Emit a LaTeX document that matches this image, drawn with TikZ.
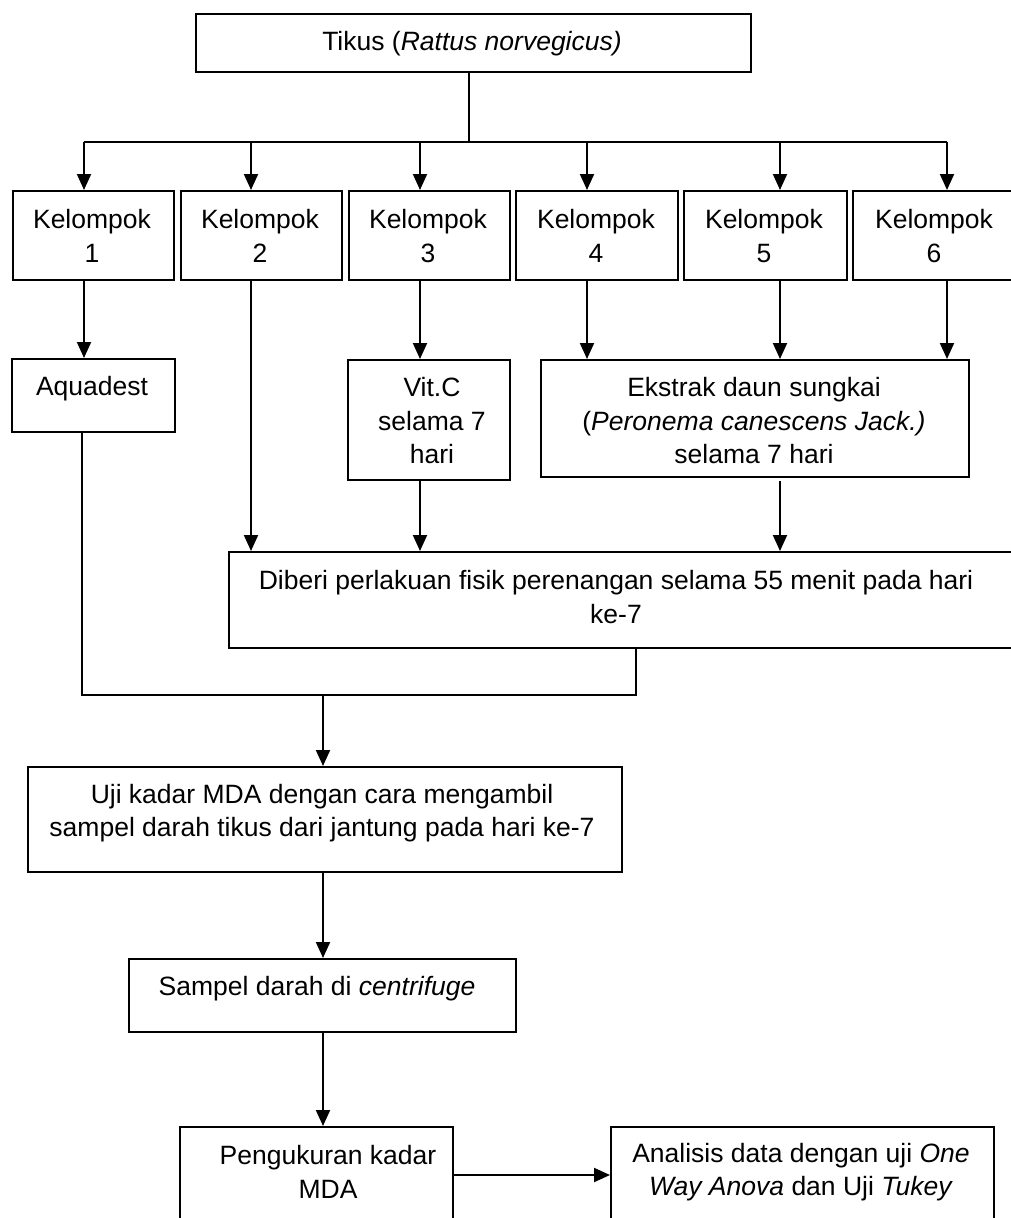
\documentclass[tikz,border=0pt]{standalone}
\usepackage{fontspec}
\setmainfont{Liberation Sans}
\usetikzlibrary{arrows.meta}
\begin{document}
\begin{tikzpicture}[x=1pt,y=-1pt,
  box/.style={draw,line width=1.9pt,inner sep=0pt,anchor=north west},
  txt/.style={align=center,inner sep=0pt,font=\fontsize{26.5}{33.5}\selectfont},
  ln/.style={line width=2pt},
  arr/.style={line width=2pt,-{Triangle[length=16pt,width=14pt]}}]
\clip (0,0) rectangle (1011,1218);
\fill[white] (0,0) rectangle (1011,1218);
% top
\node[box,minimum width=555pt,minimum height=58pt] (T) at (195,13) {};
\node[txt] (Tt) at (472,44) {Tikus (\textit{Rattus norvegicus)}};
% kelompok boxes
\node[box,minimum width=161pt,minimum height=89pt] (K1) at (12,190) {};
\node[box,minimum width=161pt,minimum height=89pt] (K2) at (180,190) {};
\node[box,minimum width=161pt,minimum height=89pt] (K3) at (348,190) {};
\node[box,minimum width=162pt,minimum height=89pt] (K4) at (515,190) {};
\node[box,minimum width=163pt,minimum height=89pt] (K5) at (683,190) {};
\node[box,minimum width=170pt,minimum height=89pt] (K6) at (852,190) {};
\node[txt] (K1t) at (92,236) {Kelompok\\1};
\node[txt] (K2t) at (260,236) {Kelompok\\2};
\node[txt] (K3t) at (428,236) {Kelompok\\3};
\node[txt] (K4t) at (596,236) {Kelompok\\4};
\node[txt] (K5t) at (764,236) {Kelompok\\5};
\node[txt] (K6t) at (934,236) {Kelompok\\6};
% bar
\coordinate (trunk) at (469,142);
\coordinate (b1) at (84,142);
\coordinate (b2) at (251,142);
\coordinate (b3) at (420,142);
\coordinate (b4) at (587,142);
\coordinate (b5) at (780,142);
\coordinate (b6) at (947,142);
\draw[ln] (T.south -| trunk) -- (trunk);
\draw[line width=2.6pt] (b1) -- (b6);
\draw[arr] (b1) -- (b1 |- K1.north);
\draw[arr] (b2) -- (b2 |- K2.north);
\draw[arr] (b3) -- (b3 |- K3.north);
\draw[arr] (b4) -- (b4 |- K4.north);
\draw[arr] (b5) -- (b5 |- K5.north);
\draw[arr] (b6) -- (b6 |- K6.north);
% second row
\node[box,minimum width=163pt,minimum height=73pt] (A) at (11,358) {};
\node[txt] (At) at (92,389) {Aquadest};
\node[box,minimum width=162pt,minimum height=120pt] (V) at (347,359) {};
\node[txt] (Vt) at (432,421) {Vit.C\\selama 7\\hari};
\node[box,minimum width=428pt,minimum height=117pt] (E) at (540,359) {};
\node[txt] (Et) at (754,421) {Ekstrak daun sungkai\\(\textit{Peronema canescens Jack.)}\\selama 7 hari};
\draw[arr] (b1 |- K1.south) -- (b1 |- A.north);
\draw[arr] (b3 |- K3.south) -- (b3 |- V.north);
\draw[arr] (b4 |- K4.south) -- (b4 |- E.north);
\draw[arr] (b5 |- K5.south) -- (b5 |- E.north);
\draw[arr] (b6 |- K6.south) -- (b6 |- E.north);
% Diberi
\node[box,minimum width=800pt,minimum height=96pt] (D) at (228,551) {};
\node[txt] (Dt) at (616,597) {Diberi perlakuan fisik perenangan selama 55 menit pada hari\\ke-7};
\draw[arr] (b2 |- K2.south) -- (b2 |- D.north);
\draw[arr] (b3 |- V.south) -- (b3 |- D.north);
\draw[arr] ([yshift=-3pt]b5 |- E.south) -- (b5 |- D.north);
% join
\coordinate (jL) at (82,695);
\coordinate (jR) at (636,695);
\coordinate (jM) at (323,695);
\draw[ln] (jL |- A.south) -- (jL) -- (jR) -- (jR |- D.south);
% Uji
\node[box,minimum width=594pt,minimum height=105pt] (U) at (27,766) {};
\node[txt] (Ut) at (322,813) {Uji kadar MDA dengan cara mengambil\\sampel darah tikus dari jantung pada hari ke-7};
\draw[arr] (jM) -- (jM |- U.north);
% Sampel
\node[box,minimum width=387pt,minimum height=73pt] (S) at (128,958) {};
\node[txt] (St) at (317,989) {Sampel darah di \textit{centrifuge}};
\draw[arr] (jM |- U.south) -- (jM |- S.north);
% Pengukuran
\node[box,minimum width=273pt,minimum height=130pt] (P) at (179,1126) {};
\node[txt] (Pt) at (328,1172) {Pengukuran kadar\\MDA};
\draw[arr] (jM |- S.south) -- (jM |- P.north);
% Analisis
\node[box,minimum width=383pt,minimum height=130pt] (An) at (610,1126) {};
\node[txt] (Ant) at (801,1172) {Analisis data dengan uji \textit{One}\\\textit{Way Anova} dan Uji \textit{Tukey}};
\coordinate (pa) at (452,1175);
\draw[arr] (pa) -- (pa -| An.west);
\end{tikzpicture}
\end{document}
